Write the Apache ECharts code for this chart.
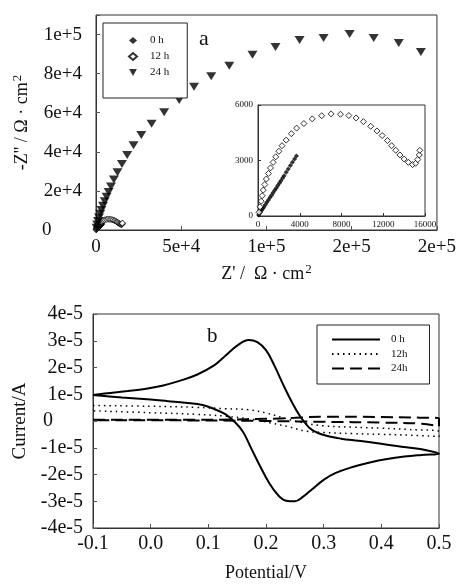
<!DOCTYPE html>
<html>
<head>
<meta charset="utf-8">
<script src="https://cdn.jsdelivr.net/npm/echarts@6/dist/echarts.min.js"></script>
<style>
html,body{margin:0;padding:0;background:#fff;}
#chart{width:459px;height:584px;}
</style>
</head>
<body>
<div id="chart"></div>
<script>
// (a) Nyquist: [Z', -Z''] in ohm.cm2
const nyq0h = [[60,50],[150,130],[260,220],[350,310],[460,400],[560,480],[700,610],[850,740],[1000,870],[1150,1000],[1300,1120],[1450,1260],[1600,1390],[1760,1520],[1900,1650],[2060,1790],[2200,1910],[2360,2050],[2500,2180],[2700,2360],[2900,2540],[3100,2730],[3300,2900],[3500,3080],[3680,3250]];
const nyq12h = [[100,200],[200,500],[300,800],[400,1100],[500,1400],[650,1700],[800,2000],[1000,2300],[1200,2600],[1450,2900],[1700,3200],[2000,3500],[2300,3800],[2700,4100],[3200,4450],[3700,4750],[4400,5000],[5200,5250],[6100,5420],[7000,5520],[7900,5500],[8700,5430],[9400,5300],[10100,5100],[10800,4850],[11400,4600],[11900,4350],[12400,4080],[12800,3800],[13200,3550],[13600,3300],[14000,3080],[14400,2900],[14800,2780],[15100,2850],[15300,3050],[15450,3300],[15500,3550]];
const nyq24h = [[300,1200],[700,2800],[1200,4600],[1800,6400],[2500,8300],[3200,10200],[4100,12400],[5100,14700],[6200,17000],[7400,19400],[8800,22300],[10500,25800],[12600,29600],[15200,33800],[18300,38400],[22000,43300],[26600,48600],[32600,54300],[40000,60300],[48800,66500],[57500,73300],[67600,78700],[78200,84000],[91800,89600],[105300,93600],[119400,97200],[133500,98200],[148800,100300],[162900,98200],[177600,95700],[190600,91100]];

// (b) CV: [potential V, current in 1e-5 A], forward then reverse scan
const cv0h = [[-0.1,0.97],[-0.07,1.05],[-0.04,1.12],[-0.01,1.2],[0.02,1.32],[0.05,1.5],[0.08,1.73],[0.11,2.08],[0.13,2.45],[0.15,2.82],[0.17,3.03],[0.185,2.95],[0.2,2.65],[0.215,2.05],[0.23,1.35],[0.245,0.7],[0.26,0.15],[0.275,-0.25],[0.29,-0.45],[0.31,-0.58],[0.33,-0.66],[0.36,-0.74],[0.39,-0.82],[0.42,-0.92],[0.45,-1.0],[0.48,-1.1],[0.5,-1.22],
  [0.47,-1.27],[0.44,-1.33],[0.41,-1.42],[0.38,-1.55],[0.35,-1.72],[0.32,-1.95],[0.3,-2.2],[0.28,-2.55],[0.265,-2.82],[0.25,-3.0],[0.235,-2.98],[0.22,-2.75],[0.205,-2.3],[0.19,-1.7],[0.175,-1.05],[0.16,-0.4],[0.145,-0.02],[0.13,0.25],[0.11,0.45],[0.09,0.6],[0.06,0.68],[0.03,0.74],[0.0,0.8],[-0.05,0.88],[-0.1,0.97]];
const cv12h = [[-0.1,0.58],[0.0,0.55],[0.08,0.51],[0.13,0.46],[0.17,0.42],[0.2,0.3],[0.23,0.12],[0.26,-0.05],[0.3,-0.18],[0.35,-0.23],[0.4,-0.27],[0.45,-0.32],[0.5,-0.4],
  [0.5,-0.58],[0.45,-0.53],[0.4,-0.5],[0.35,-0.47],[0.3,-0.43],[0.27,-0.38],[0.24,-0.22],[0.21,-0.08],[0.18,0.05],[0.13,0.18],[0.08,0.25],[0.0,0.31],[-0.1,0.38]];
const cv24h = [[-0.1,0.05],[0.1,0.05],[0.2,0.08],[0.25,0.12],[0.3,0.16],[0.4,0.15],[0.45,0.13],[0.5,0.1],
  [0.5,-0.2],[0.47,-0.1],[0.4,-0.06],[0.3,-0.03],[0.2,0.0],[0.1,0.02],[-0.1,0.03]];

const legendNames = {n0:'0 h', n12:'12 h', n24:'24 h', c0:'0 h', c12:'12h', c24:'24h'};

const serif = '"Liberation Serif", "DejaVu Serif", serif';
const ink = '#111';
const axisLine = {show:true, onZero:false, lineStyle:{color:'#333', width:1}};
const tickIn = {show:true, inside:true, length:4, lineStyle:{color:'#555'}};
const downTri = 'path://M0,0 L10,0 L5,9 Z';

// "0" sits at the left of the label column, others are right aligned
function zeroLeft(txt, w){
  return txt === '0' ? '{z|0}' : txt;
}

const chart = echarts.init(document.getElementById('chart'));
chart.setOption({
  backgroundColor:'#fff',
  animation:false,
  textStyle:{fontFamily:serif, color:ink},
  grid:[
    {left:96, top:15, width:341, height:215, show:true, borderColor:'#333', borderWidth:1},
    {left:258, top:105, width:167, height:111, show:true, borderColor:'#333', borderWidth:1, backgroundColor:'#fff'},
    {left:93, top:314, width:346, height:214, show:true, borderColor:'#333', borderWidth:1}
  ],
  xAxis:[
    {gridIndex:0, type:'value', min:0, max:200000, interval:50000,
      axisLine:axisLine, axisTick:tickIn, splitLine:{show:false},
      axisLabel:{fontSize:19, color:ink, margin:8, formatter:v => v === 0 ? '0' : v.toExponential(0)},
      name:"Z' /  Ω · cm{s|2}", nameLocation:'middle', nameGap:33,
      nameTextStyle:{fontSize:18, color:ink, rich:{s:{fontSize:13, verticalAlign:'top', padding:[0,0,9,1]}}}},
    {gridIndex:1, type:'value', min:0, max:16000, interval:4000,
      axisLine:axisLine, axisTick:{show:true, inside:true, length:3}, splitLine:{show:false},
      axisLabel:{fontSize:9, color:ink, margin:4, formatter:v => String(v)}},
    {gridIndex:2, type:'value', min:-0.1, max:0.5, interval:0.1,
      axisLine:axisLine, axisTick:tickIn, splitLine:{show:false},
      axisLabel:{fontSize:20, color:ink, margin:6, formatter:v => v.toFixed(1)},
      name:'Potential/V', nameLocation:'middle', nameGap:36,
      nameTextStyle:{fontSize:18, color:ink}}
  ],
  yAxis:[
    {gridIndex:0, type:'value', min:0, max:110000, interval:20000,
      axisLine:axisLine, axisTick:tickIn, splitLine:{show:false},
      axisLabel:{fontSize:19, color:ink, margin:14,
        formatter:v => v % 20000 !== 0 ? '' : zeroLeft(v === 0 ? '0' : v.toExponential(0)),
        rich:{z:{width:40, align:'left', fontSize:19}}},
      name:"-Z'' / Ω · cm{s|2}", nameLocation:'middle', nameGap:58,
      nameTextStyle:{fontSize:18, color:ink, rich:{s:{fontSize:13, verticalAlign:'top', padding:[0,0,9,1]}}}},
    {gridIndex:1, type:'value', min:0, max:6000, interval:3000,
      axisLine:axisLine, axisTick:{show:true, inside:true, length:3}, splitLine:{show:false},
      axisLabel:{fontSize:9, color:ink, margin:5, formatter:v => String(v)}},
    {gridIndex:2, type:'value', min:-4, max:4, interval:1,
      axisLine:axisLine, axisTick:tickIn, splitLine:{show:false},
      axisLabel:{fontSize:20, color:ink, margin:10,
        formatter:v => zeroLeft(v === 0 ? '0' : Math.round(v) + 'e-5'),
        rich:{z:{width:40, align:'left', fontSize:20}}},
      name:'Current/A', nameLocation:'middle', nameGap:61,
      nameTextStyle:{fontSize:19, color:ink}}
  ],
  legend:[
    {data:[{name:'n0'},{name:'n12'},{name:'n24', icon:downTri}], formatter:n => legendNames[n], orient:'vertical',
      left:103, top:23, padding:[12,18,20,25], itemGap:5, itemWidth:8, itemHeight:7,
      borderColor:'#222', borderWidth:1, borderRadius:0, backgroundColor:'#fff',
      textStyle:{fontSize:11, color:ink, padding:[0,0,0,8]}},
    {data:['c0','c12','c24'], formatter:n => legendNames[n], orient:'vertical',
      left:317, top:325, padding:[9,22,10,14], itemGap:3.5, itemWidth:48, itemHeight:10,
      itemStyle:{opacity:0},
      borderColor:'#222', borderWidth:1, borderRadius:0, backgroundColor:'#fff',
      textStyle:{fontSize:11, color:ink, padding:[0,0,0,6]}}
  ],
  graphic:[
    {type:'text', left:199, top:28, style:{text:'a', font:'22px ' + serif, fill:ink}},
    {type:'text', left:207, top:326, style:{text:'b', font:'21px ' + serif, fill:ink}}
  ],
  series:[
    {name:'n0', type:'scatter', xAxisIndex:0, yAxisIndex:0, data:nyq0h, symbol:'diamond', symbolSize:6, itemStyle:{color:'#000'}},
    {name:'n12', type:'scatter', xAxisIndex:0, yAxisIndex:0, data:nyq12h, symbol:'diamond', symbolSize:6, itemStyle:{color:'#fff', borderColor:'#000', borderWidth:1}},
    {name:'n24', type:'scatter', xAxisIndex:0, yAxisIndex:0, data:nyq24h, symbol:'triangle', symbolRotate:180, symbolSize:[10,8], itemStyle:{color:'#000'}},
    {name:'n0', type:'scatter', xAxisIndex:1, yAxisIndex:1, data:nyq0h, symbol:'diamond', symbolSize:5, itemStyle:{color:'#000'}},
    {name:'n12', type:'scatter', xAxisIndex:1, yAxisIndex:1, data:nyq12h, symbol:'diamond', symbolSize:6, itemStyle:{color:'#fff', borderColor:'#000', borderWidth:1}},
    {name:'c0', type:'line', xAxisIndex:2, yAxisIndex:2, data:cv0h, smooth:0.4, symbol:'none', itemStyle:{color:'#000'}, lineStyle:{color:'#000', width:2}},
    {name:'c12', type:'line', xAxisIndex:2, yAxisIndex:2, data:cv12h, smooth:0.4, symbol:'none', itemStyle:{color:'#000'}, lineStyle:{color:'#000', width:1.5, type:[1.5,4]}},
    {name:'c24', type:'line', xAxisIndex:2, yAxisIndex:2, data:cv24h, smooth:0.4, symbol:'none', itemStyle:{color:'#000'}, lineStyle:{color:'#000', width:2, type:[12,6]}}
  ]
});
</script>
</body>
</html>
